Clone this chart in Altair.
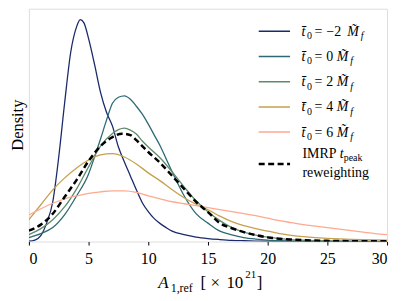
import altair as alt
import pandas as pd

FONT = "Liberation Serif"

# ---- data (x in units of 1e21, density in arbitrary units) ----
blue_x = [0, 0.5, 1, 1.5, 2, 2.5, 3, 3.5, 4, 4.3, 4.6, 5, 5.5, 6, 6.5, 7, 7.5, 8, 8.5, 9, 9.5,
          10, 10.5, 11, 11.5, 12, 13, 14, 15, 16, 17, 18, 19, 20, 22, 25, 30]
blue_y = [0.3, 1.5, 6, 19, 40, 85, 140, 190, 216, 223, 220, 204, 178, 150, 130, 116, 95, 80, 66,
          52, 39, 30, 23, 18, 14, 10.5, 7, 4.5, 3, 2, 1.2, 0.8, 0.5, 0.3, 0.1, 0.03, 0]

teal_x = [0, 1, 2, 3, 4, 5, 5.5, 6, 6.5, 7, 7.5, 8, 8.5, 9, 9.5, 10, 10.5, 11, 11.5, 12, 13, 14,
          15, 16, 17, 18, 19, 20, 21, 22, 23, 25, 30]
teal_y = [4, 8, 14, 27, 46, 68, 85, 103, 122, 139, 145, 146.5, 143, 136, 128, 118, 107, 96, 83,
          70, 46, 28, 18.5, 10.5, 6.7, 4, 2.5, 1.5, 0.9, 0.5, 0.3, 0.1, 0]

green_x = [0, 1, 2, 3, 4, 5, 6, 7, 7.5, 8, 8.5, 9, 9.5, 10, 11, 12, 13, 14, 15, 16, 17, 18, 19,
           20, 21, 22, 23, 24, 25, 27, 30]
green_y = [7, 13, 22, 35, 53, 75, 96, 108.5, 112.5, 114, 112, 108, 101, 95, 84, 70, 55, 41, 30,
           21, 14, 9.5, 6.5, 4.5, 3, 2, 1.4, 1, 0.7, 0.3, 0.1]

gold_x = list(range(0, 31))
gold_y = [22, 37, 52, 64, 74, 82, 87, 88.4, 85, 78, 69, 61, 52, 44, 37.5, 32, 25.5, 20, 16, 13,
          10.5, 8, 6.3, 5, 4, 3.2, 2.6, 2.1, 1.8, 1.6, 1.5]

salmon_x = list(range(0, 31))
salmon_y = [26.7, 33, 38.5, 43, 46, 48.5, 50, 51, 51, 49.5, 46, 43, 40, 38, 36, 34, 32, 30, 28,
            26, 23.5, 21, 19, 17, 15.5, 14, 12.5, 11, 9.5, 8, 7]

imrp_x = [0, 1, 2, 3, 4, 5, 6, 7, 7.8, 8.5, 9, 9.5, 10, 11, 12, 13, 14, 15, 16, 17, 18, 19, 20,
          21, 22, 23, 24, 25, 26, 27, 28, 30]
imrp_y = [11, 17, 28, 45, 62, 81, 96, 105, 108.4, 107, 102, 96, 90, 79, 66, 53, 40, 29.5, 18.5,
          13.4, 9.5, 6.5, 4.2, 2.8, 2, 1.4, 1, 0.7, 0.5, 0.4, 0.3, 0.2]

x_ticks = [0, 5, 10, 15, 20, 25, 30]
legend_values = ["\u22122", "0", "2", "4", "6"]

series = [
    (blue_x, blue_y, "#1b2a6b"),
    (teal_x, teal_y, "#2e6a74"),
    (green_x, green_y, "#5e8b6b"),
    (gold_x, gold_y, "#c6a04c"),
    (salmon_x, salmon_y, "#ffa98f"),
]

W, H = 360, 234
xscale = alt.Scale(domain=[0, 30], nice=False, zero=False)
yscale = alt.Scale(domain=[0, 0.234], nice=False, zero=True)


def curve(xs, ys, color, width=1.3, dash=None):
    df = pd.DataFrame({"x": xs, "y": [v / 1000 for v in ys]})
    kw = dict(color=color, strokeWidth=width, interpolate="monotone", clip=True)
    if dash is not None:
        kw["strokeDash"] = dash
    return alt.Chart(df).mark_line(**kw).encode(
        x=alt.X("x:Q", scale=xscale,
                axis=alt.Axis(values=x_ticks, title=None, grid=False, domain=False,
                              labelFont=FONT, labelFontSize=16, labelColor="black",
                              tickColor="black", tickSize=3.5, tickWidth=1,
                              labelPadding=6, format="d")),
        y=alt.Y("y:Q", scale=yscale, axis=None),
    )


dummy = pd.DataFrame({"a": [0]})


def txt(s, x, y, size=14, italic=False, angle=None, align="left"):
    kw = dict(text=s, align=align, baseline="alphabetic", font=FONT, fontSize=size,
              fontStyle="italic" if italic else "normal", color="black")
    if angle is not None:
        kw["angle"] = angle
    return alt.Chart(dummy).mark_text(**kw).encode(x=alt.value(x), y=alt.value(y))


def seg(x1, x2, y, color, width=1.3, dash=None):
    kw = dict(color=color, strokeWidth=width)
    if dash is not None:
        kw["strokeDash"] = dash
    return alt.Chart(dummy).mark_rule(**kw).encode(
        x=alt.value(x1), x2=alt.value(x2), y=alt.value(y))


layers = [curve(xs, ys, c) for xs, ys, c in series]
layers.append(curve(imrp_x, imrp_y, "black", width=2.5, dash=[6, 3.5]))

# legend
row_y = [22.7, 48, 73.3, 98.7, 124]
for i, (val, (_, _, c)) in enumerate(zip(legend_values, series)):
    ry = row_y[i]
    layers.append(seg(231, 262.5, ry, c, width=1.5))
    layers.append(txt("t\u0304", 274, ry + 4.5, 14, italic=True))
    layers.append(txt("0", 279.5, ry + 8, 10))
    layers.append(txt("=", 287, ry + 4.5, 14))
    layers.append(txt(val, 299, ry + 4.5, 14))
    mx = 320 if i == 0 else 309.5
    layers.append(txt("M\u0303", mx, ry + 4.5, 14, italic=True))
    layers.append(txt("f", mx + 13.5, ry + 8, 10, italic=True))

layers.append(seg(231, 262.5, 156, "black", width=2.5, dash=[6, 3.5]))
layers.append(txt("IMRP", 275, 150.3, 14))
layers.append(txt("t", 312.4, 150.3, 14, italic=True))
layers.append(txt("peak", 316.4, 153.5, 10))
layers.append(txt("reweighting", 275, 169, 14))

# x-axis title pieces
layers.append(txt("A", 130, 281, 17, italic=True))
layers.append(txt("1,ref", 142.5, 285, 12))
layers.append(txt("[", 172.5, 281, 17))
layers.append(txt("\u00d7", 182.5, 281, 17))
layers.append(txt("10", 198.5, 281, 17))
layers.append(txt("21", 217.5, 271, 11))
layers.append(txt("]", 229, 281, 17))

# y-axis title
layers.append(txt("Density", -6, H / 2, 16.5, angle=270, align="center"))

chart = alt.layer(*layers).properties(
    width=W, height=H,
    autosize=alt.AutoSizeParams(type="none"),
    padding={"left": 21, "top": 0, "right": 12, "bottom": 55},
).configure_view(stroke="black", strokeWidth=1).configure(background="white")

chart.save("out.html", embed_options={"renderer": "svg", "actions": False})
